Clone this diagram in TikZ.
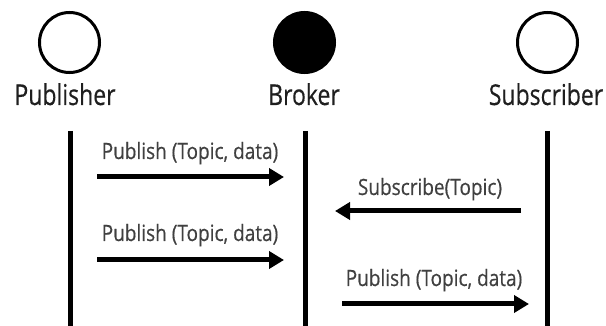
\documentclass[tikz,border=0pt]{standalone}
\usepackage{fontspec}
\setmainfont{Open Sans}
\newfontfamily\labelfont{Open Sans}[FakeBold=0.5]
\usetikzlibrary{arrows.meta}
\newcommand{\tallname}[1]{\scalebox{1}[1.25]{#1}}
\newcommand{\tallmsg}[1]{\scalebox{1}[1.18]{#1}}
\begin{document}
\begin{tikzpicture}[x=1pt,y=-1pt,
  actor/.style={circle,draw=black,line width=3pt,minimum size=60pt,inner sep=0pt},
  actorname/.style={font=\labelfont\fontsize{23}{26}\selectfont,anchor=base,inner sep=0pt,text=black!88},
  lifeline/.style={line width=5pt,black},
  msg/.style={line width=5pt,-{Triangle[length=15pt,width=17pt]}},
  msglabel/.style={font=\labelfont\fontsize{19}{22}\selectfont,anchor=base,inner sep=0pt,text=black!75}]
  \useasboundingbox (0,0) rectangle (606,326);

  % participants
  \node[actor,fill=white] (pub) at (69.5,42.5) {};
  \node[actor,fill=black] (brk) at (304.5,42.5) {};
  \node[actor,fill=white] (sub) at (547.5,42.5) {};
  \node[actorname] (pubname) at (65,105) {\tallname{Publisher}};
  \node[actorname] (brkname) at (304,105) {\tallname{Broker}};
  \node[actorname] (subname) at (546,105) {\tallname{Subscriber}};

  % lifelines
  \coordinate (pubtop) at (70,131);  \coordinate (pubbot) at (70,330);
  \coordinate (brktop) at (305,131); \coordinate (brkbot) at (305,330);
  \coordinate (subtop) at (547,131); \coordinate (subbot) at (547,330);
  \draw[lifeline] (pubtop) -- (pubbot);
  \draw[lifeline] (brktop) -- (brkbot);
  \draw[lifeline] (subtop) -- (subbot);

  % messages
  \coordinate (m1a) at (97,177);  \coordinate (m1b) at (284,177);
  \coordinate (m2a) at (97,260);  \coordinate (m2b) at (284,260);
  \coordinate (m3a) at (521,211); \coordinate (m3b) at (335,211);
  \coordinate (m4a) at (342,304); \coordinate (m4b) at (529,304);
  \draw[msg] (m1a) -- (m1b);
  \draw[msg] (m2a) -- (m2b);
  \draw[msg] (m3a) -- (m3b);
  \draw[msg] (m4a) -- (m4b);

  \node[msglabel] (l1) at (190,159) {\tallmsg{Publish (Topic, data)}};
  \node[msglabel] (l2) at (190,241) {\tallmsg{Publish (Topic, data)}};
  \node[msglabel] (l3) at (430,195) {\tallmsg{Subscribe(Topic)}};
  \node[msglabel] (l4) at (434,286) {\tallmsg{Publish (Topic, data)}};
\end{tikzpicture}
\end{document}
